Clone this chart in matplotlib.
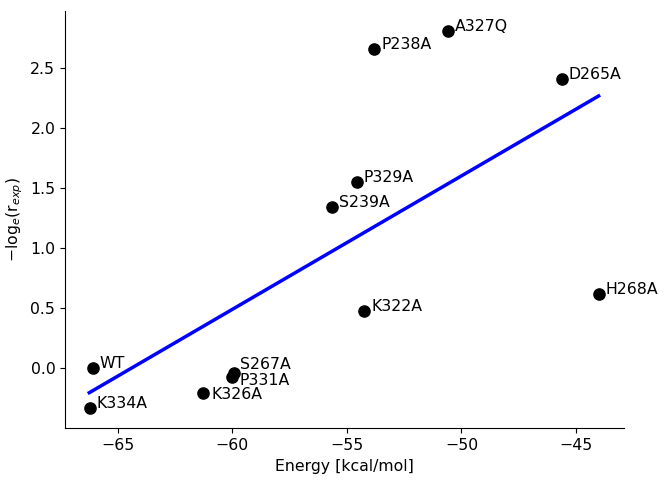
import matplotlib

matplotlib.use("Agg")
import matplotlib.pyplot as plt

# mutant data
names = ["WT", "K334A", "K326A", "S267A", "P331A", "K322A",
         "H268A", "S239A", "P329A", "P238A", "A327Q", "D265A"]
energy = [-66.1, -66.22, -61.27, -59.92, -60.0, -54.24,
          -44.01, -55.67, -54.58, -53.8, -50.6, -45.63]
neg_log_r = [0.0, -0.333, -0.208, -0.042, -0.075, 0.478,
             0.617, 1.347, 1.555, 2.658, 2.81, 2.408]

# regression line endpoints
fit_x = [-66.25, -44.01]
fit_y = [-0.203, 2.27]

# label nudges (points) where labels were pushed apart
label_offsets = {"K326A": (6, -4), "S267A": (4.5, 3.5), "P331A": (5, -5.5)}

plt.rcParams["font.size"] = 11.3

fig = plt.figure(figsize=(6.66, 4.84), dpi=100)
ax = fig.add_axes([0.0976, 0.115, 0.8394, 0.862])

ax.plot(fit_x, fit_y, color="blue", linewidth=2.5, zorder=1)
ax.scatter(energy, neg_log_r, s=65, color="black", zorder=2)
for name, x, y in zip(names, energy, neg_log_r):
    ax.annotate(name, (x, y), xytext=label_offsets.get(name, (5, 0)),
                textcoords="offset points", va="baseline")

ax.set_xlim(-67.31, -42.9)
ax.set_ylim(-0.5, 2.977)
ax.set_xticks([-65, -60, -55, -50, -45])
ax.set_yticks([0.0, 0.5, 1.0, 1.5, 2.0, 2.5])
ax.spines["top"].set_visible(False)
ax.spines["right"].set_visible(False)
ax.set_xlabel("Energy [kcal/mol]")
ax.set_ylabel(r"$-\mathrm{log}_e(\mathrm{r}_{exp})$")

fig.savefig("out.png", dpi=100)
